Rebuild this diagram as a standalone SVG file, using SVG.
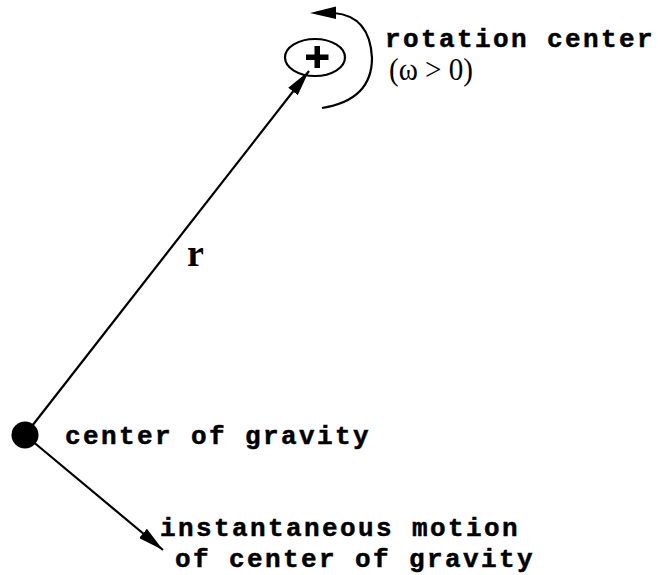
<svg xmlns="http://www.w3.org/2000/svg" width="658" height="575" viewBox="0 0 658 575">
<style>
.ln{stroke:#000;stroke-width:2.2;fill:none}
.mono{font-family:"Liberation Mono","Courier New",monospace;font-weight:bold;font-size:26px;letter-spacing:2.4px;fill:#000;stroke:#000;stroke-width:0.5}
.serif{font-family:"Liberation Serif","Times New Roman",serif;fill:#000}
</style>
<defs>
<marker id="ah" viewBox="0 0 26 12" refX="26" refY="6" markerWidth="26" markerHeight="12" markerUnits="userSpaceOnUse" orient="auto">
<path d="M0,0 L26,6 L0,12 Z" fill="#000"/>
</marker>
</defs>
<rect width="658" height="575" fill="#fff"/>
<g id="connectors">
<line class="ln" x1="25" y1="435" x2="309" y2="71" marker-end="url(#ah)"/>
<line class="ln" x1="25" y1="435" x2="163" y2="550" marker-end="url(#ah)"/>
<path class="ln" d="M322 108 Q372 100 372 58 Q370 16 334 13"/>
<polygon points="310,13 336,6.5 336,19" fill="#000"/>
</g>
<g id="rotation-center">
<ellipse class="ln" cx="315" cy="57.5" rx="30" ry="18.5"/>
<rect x="314.5" y="46" width="5.5" height="22" fill="#000"/>
<rect x="306" y="54.5" width="22.5" height="5.5" fill="#000"/>
<text class="mono" x="385" y="47">rotation center</text>
<text class="serif" x="389" y="80" font-size="31" textLength="84" lengthAdjust="spacingAndGlyphs">(ω &gt; 0)</text>
</g>
<g id="center-of-gravity">
<circle cx="25" cy="435" r="13.5" fill="#000"/>
<text class="mono" x="65" y="444">center of gravity</text>
</g>
<g id="motion-label">
<text class="mono" x="160" y="536">instantaneous motion</text>
<text class="mono" x="175" y="567">of center of gravity</text>
</g>
<g id="r-label">
<text class="serif" x="187" y="266" font-size="38" font-weight="bold">r</text>
</g>
</svg>
